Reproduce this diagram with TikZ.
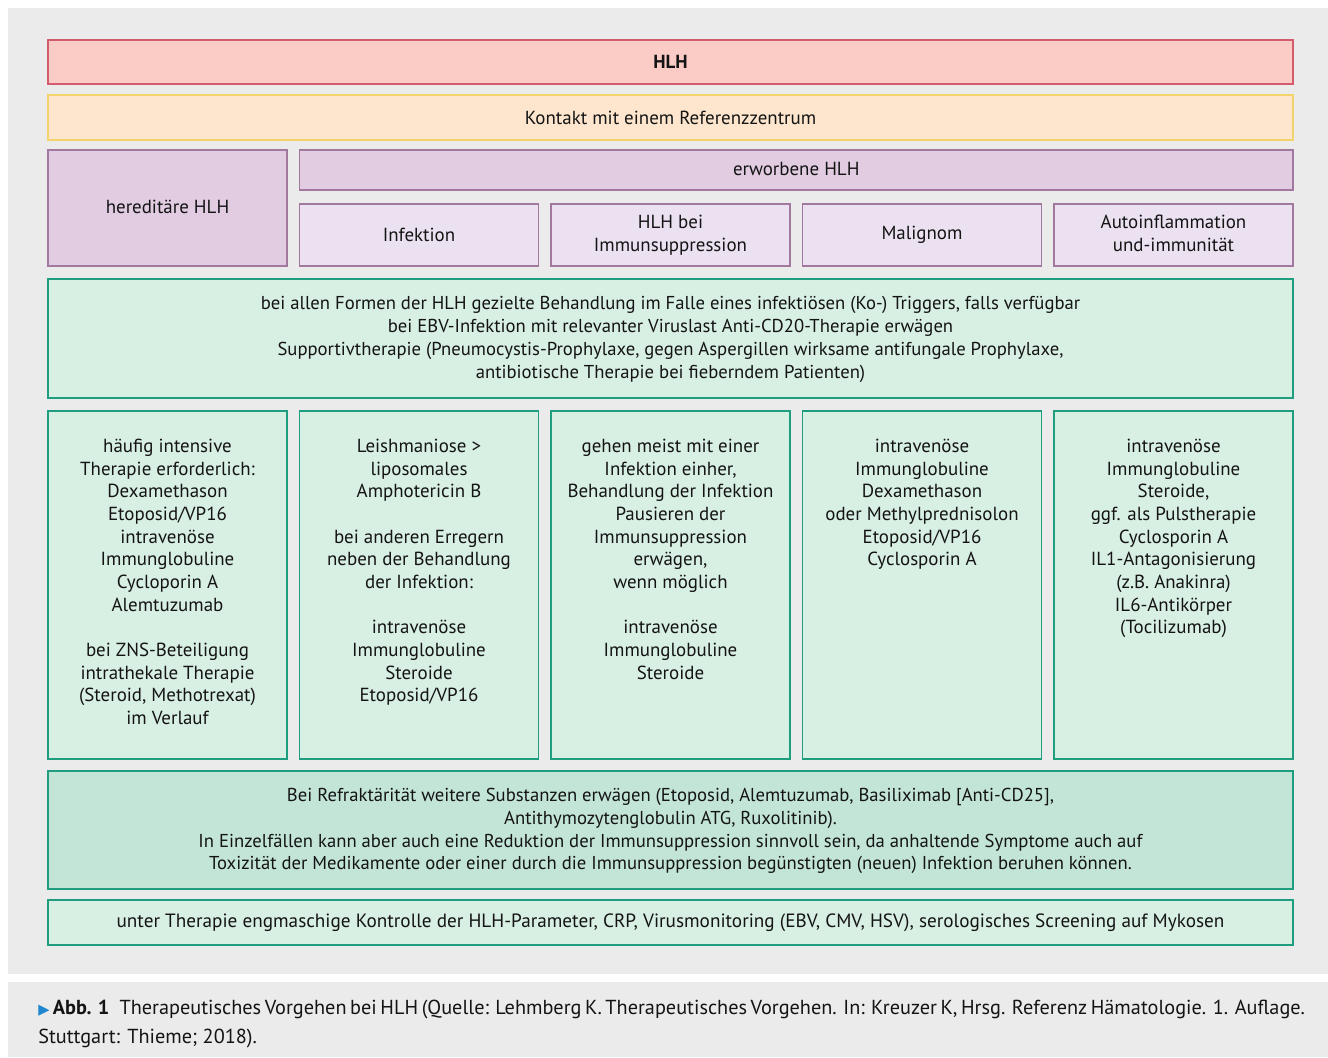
\documentclass[tikz,border=0pt]{standalone}
\usepackage{fontspec}
\setmainfont{PT Sans}
\newfontfamily\symf{DejaVu Sans}
\usetikzlibrary{fit}
\definecolor{bggray}{HTML}{EBEBEB}
\definecolor{hlhfill}{HTML}{FBCBC6}
\definecolor{hlhdraw}{HTML}{D25C6C}
\definecolor{kfill}{HTML}{FDE6CD}
\definecolor{kdraw}{HTML}{F3D36B}
\definecolor{pfill}{HTML}{E1CCE2}
\definecolor{pdraw}{HTML}{A3789F}
\definecolor{lpfill}{HTML}{EBE1F0}
\definecolor{gfill}{HTML}{D8EFE4}
\definecolor{gdraw}{HTML}{1E9E7E}
\definecolor{rfill}{HTML}{C3E5D8}
\definecolor{triblue}{HTML}{1F87CF}
\definecolor{txtcol}{HTML}{141414}
\tikzset{
  box/.style={draw, line width=1.3pt, inner sep=0pt},
  hlhbox/.style={box, draw=hlhdraw, fill=hlhfill},
  kbox/.style={box, draw=kdraw, fill=kfill},
  pbox/.style={box, draw=pdraw, fill=pfill},
  lpbox/.style={box, draw=pdraw, fill=lpfill},
  gbox/.style={box, draw=gdraw, fill=gfill},
  rbox/.style={box, draw=gdraw, fill=rfill},
  txt/.style={font=\fontsize{14.2pt}{17pt}\selectfont, text=txtcol, align=center, inner sep=0pt},
  gtxt/.style={font=\fontsize{14pt}{17.3pt}\selectfont, text=txtcol, align=center, inner sep=0pt},
  captxt/.style={font=\fontsize{15.2pt}{18pt}\selectfont, text=txtcol, inner sep=0pt},
  coltxt/.style={txt, anchor=north},
}
\begin{document}
\begin{tikzpicture}[x=0.75pt,y=-0.75pt]
\useasboundingbox (0,0) rectangle (1328,1057);
\fill[white] (0,0) rectangle (1328,1057);
\fill[bggray] (8,8) rectangle (1328,974);
\fill[bggray] (8,982) rectangle (1328,1057);

% header rows
\node[hlhbox, fit={(48,40) (1293,84)}] (hlh) {};
\node[txt, font=\fontsize{14.2pt}{17pt}\selectfont\bfseries] (hlhT) at (hlh.center) {HLH};
\node[kbox, fit={(48,95) (1293,140)}] (kontakt) {};
\node[txt] (kontaktT) at (kontakt.center) {Kontakt mit einem Referenzzentrum};

\node[pbox, fit={(48,150) (287,266)}] (hered) {};
\node[txt] (heredT) at ([yshift=0.8pt]hered.center) {hereditäre HLH};
\node[pbox, fit={(299.5,150) (1293,190)}] (erw) {};
\node[txt] (erwT) at ([yshift=0.6pt]erw.center) {erworbene HLH};

\node[lpbox, fit={(299.5,204) (538.5,266)}] (inf) {};
\node[txt] (infT) at (inf.center) {Infektion};
\node[lpbox, fit={(551,204) (790,266)}] (imm) {};
\node[txt] (immT) at (imm.center) {HLH bei\\Immunsuppression};
\node[lpbox, fit={(802.5,204) (1041.5,266)}] (mal) {};
\node[txt] (malT) at (mal.center) {Malignom};
\node[lpbox, fit={(1054,204) (1293,266)}] (auto) {};
\node[txt] (autoT) at ([yshift=1pt]auto.center) {Autoinflammation\\und-immunität};

% general band
\node[gbox, fit={(48,279) (1293,398)}] (allg) {};
\node[gtxt] (allgT) at ([yshift=-0.8pt]allg.center) {bei allen Formen der HLH gezielte Behandlung im Falle eines infektiösen (Ko-) Triggers, falls verfügbar\\
bei EBV-Infektion mit relevanter Viruslast Anti-CD20-Therapie erwägen\\
Supportivtherapie (Pneumocystis-Prophylaxe, gegen Aspergillen wirksame antifungale Prophylaxe,\\
antibiotische Therapie bei fieberndem Patienten)};

% columns
\node[gbox, fit={(48,411) (287,759)}] (c1) {};
\node[gbox, fit={(299.5,411) (538.5,759)}] (c2) {};
\node[gbox, fit={(551,411) (790,759)}] (c3) {};
\node[gbox, fit={(802.5,411) (1041.5,759)}] (c4) {};
\node[gbox, fit={(1054,411) (1293,759)}] (c5) {};

\node[coltxt] (c1T) at (167.5,436.5) {\strut häufig intensive\\Therapie erforderlich:\\Dexamethason\\Etoposid/VP16\\intravenöse\\Immunglobuline\\Cycloporin A\\Alemtuzumab\\[17pt]bei ZNS-Beteiligung\\intrathekale Therapie\\(Steroid, Methotrexat)\\im Verlauf};
\node[coltxt] (c2T) at (419,436.5) {\strut Leishmaniose >\\liposomales\\Amphotericin B\\[17pt]bei anderen Erregern\\neben der Behandlung\\der Infektion:\\[17pt]intravenöse\\Immunglobuline\\Steroide\\Etoposid/VP16};
\node[coltxt] (c3T) at (670.5,436.5) {\strut gehen meist mit einer\\Infektion einher,\\Behandlung der Infektion\\Pausieren der\\Immunsuppression\\erwägen,\\wenn möglich\\[17pt]intravenöse\\Immunglobuline\\Steroide};
\node[coltxt] (c4T) at (922,436.5) {\strut intravenöse\\Immunglobuline\\Dexamethason\\oder Methylprednisolon\\Etoposid/VP16\\Cyclosporin A};
\node[coltxt] (c5T) at (1173.5,436.5) {\strut intravenöse\\Immunglobuline\\Steroide,\\ggf. als Pulstherapie\\Cyclosporin A\\IL1-Antagonisierung\\(z.B. Anakinra)\\IL6-Antikörper\\(Tocilizumab)};

% refractory band
\node[rbox, fit={(48,771) (1293,889)}] (refr) {};
\node[txt, font=\fontsize{14pt}{17pt}\selectfont] (refrT) at ([yshift=-1pt]refr.center) {Bei Refraktärität weitere Substanzen erwägen (Etoposid, Alemtuzumab, Basiliximab [Anti-CD25],\\
Antithymozytenglobulin ATG, Ruxolitinib).\\
In Einzelfällen kann aber auch eine Reduktion der Immunsuppression sinnvoll sein, da anhaltende Symptome auch auf\\
Toxizität der Medikamente oder einer durch die Immunsuppression begünstigten (neuen) Infektion beruhen können.};

% monitoring band
\node[gbox, fit={(48,900) (1293,945)}] (kontr) {};
\node[txt, font=\fontsize{14.4pt}{17pt}\selectfont] (kontrT) at (kontr.center) {unter Therapie engmaschige Kontrolle der HLH-Parameter, CRP, Virusmonitoring (EBV, CMV, HSV), serologisches Screening auf Mykosen};

% caption
\node[captxt, anchor=west] (cap1) at (38,1009) {\makebox[950pt][s]{{\symf\fontsize{11pt}{12pt}\selectfont\color{triblue}▶}\,\textbf{Abb. 1}\enspace Therapeutisches Vorgehen bei HLH (Quelle: Lehmberg K. Therapeutisches Vorgehen. In: Kreuzer K, Hrsg. Referenz Hämatologie. 1. Auflage.}};
\node[captxt, anchor=west] (cap2) at (38,1038) {Stuttgart: Thieme; 2018).};
\end{tikzpicture}
\end{document}
